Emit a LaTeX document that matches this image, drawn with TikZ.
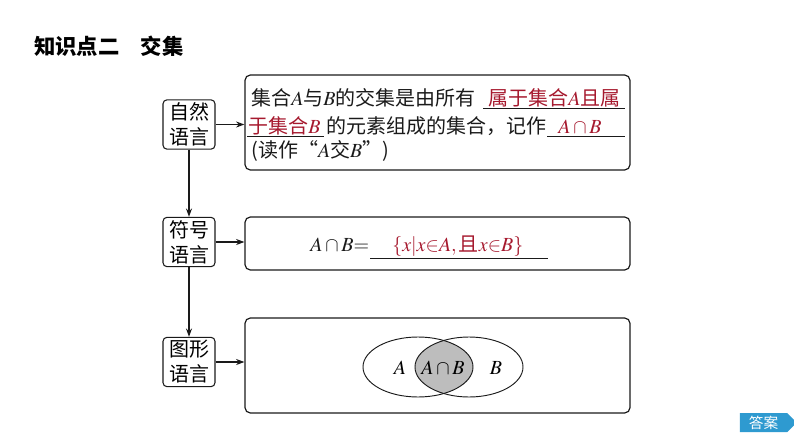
\documentclass[tikz,border=0pt]{standalone}
\usepackage{mathptmx}
\usepackage[no-math]{fontspec}
\setmainfont{Noto Sans CJK SC}
\usetikzlibrary{arrows.meta,positioning,shapes.symbols}
\definecolor{Ink}{HTML}{1A1A1A}
\definecolor{Crimson}{HTML}{A6192E}
\definecolor{Sky}{HTML}{2E9AD0}
\definecolor{Shade}{HTML}{BDBDBD}
\tikzset{
  tag/.style={draw=Ink,rounded corners=3pt,line width=.8pt,minimum width=39pt,minimum height=37pt,inner sep=1pt,align=center,font=\fontsize{15}{18.75}\selectfont},
  panel/.style={draw=Ink,rounded corners=4pt,line width=.9pt,minimum width=288.75pt},
  txt/.style={anchor=base west,inner sep=0pt,font=\fontsize{15}{18}\selectfont,text=Ink},
  ans/.style={txt,text=Crimson},
  blank/.style={draw=Ink,line width=.6pt},
  flow/.style={-{Stealth[length=2.2mm,width=1.6mm]},draw=Ink,line width=.8pt},
  venn/.style={draw=Ink,line width=.7pt},
}
\begin{document}
\begin{tikzpicture}[x=0.75pt,y=-0.75pt]
    \useasboundingbox (0,0) rectangle (794,447);
    \node[anchor=west,inner sep=0pt,font=\fontsize{16}{16}\selectfont\bfseries] (title) at (34,46.5) {知识点二　交集};

    % left column
    \node[tag] (natural) at (189,124.5) {自然\\语言};
    \node[tag] (symbol) at (189,242) {符号\\语言};
    \node[tag] (graph) at (189,362) {图形\\语言};

    % right panels
    \node[panel,minimum height=71.25pt] (p1) at (437.5,122.5) {};
    \node[panel,minimum height=39.75pt] (p2) at (437.5,243.5) {};
    \node[panel,minimum height=71.25pt] (p3) at (437.5,365.5) {};

    \draw[flow] (natural.south) -- (symbol.north);
    \draw[flow] (symbol.south) -- (graph.north);
    \draw[flow] (natural.east) -- (natural.east -| p1.west);
    \draw[flow] (symbol.east) -- (symbol.east -| p2.west);
    \draw[flow] (graph.east) -- (graph.east -| p3.west);

    % panel 1
    \node[txt] (l1a) at (251,105.5) {集合$A$与$B$的交集是由所有};
    \node[ans] (l1b) at (488,105.5) {属于集合$A$且属};
    \node[ans] (l2a) at (248,133) {于集合$B$};
    \node[txt] (l2b) at (326,133) {的元素组成的集合，记作};
    \node[ans,anchor=base] (l2c) at (580,133) {$A\cap B$};
    \node[txt] (l3) at (251,157) {(读作“$A$交$B$”)};
    \draw[blank] (483,108) -- (625,108);
    \draw[blank] (247,136) -- (324,136);
    \draw[blank] (547,136) -- (625,136);

    % panel 2
    \node[txt] (eq) at (310,251) {$A\cap B{=}$};
    \node[ans] (set) at (392,251) {$\{x|x{\in}A,\mbox{且}x{\in}B\}$};
    \draw[blank] (370,258) -- (548,258);

    % panel 3
    \begin{scope}
      \clip (418,367) ellipse (55 and 30);
      \fill[Shade] (469,367) ellipse (54 and 30);
    \end{scope}
    \draw[venn] (418,367) ellipse (55 and 30);
    \draw[venn] (469,367) ellipse (54 and 30);
    \node[font=\fontsize{15}{18}\selectfont] (setA) at (400,368) {$A$};
    \node[font=\fontsize{15}{18}\selectfont] (setAB) at (443,368) {$A\cap B$};
    \node[font=\fontsize{15}{18}\selectfont] (setB) at (496,368) {$B$};

    \node[signal,signal to=east,fill=Sky,text=white,minimum width=42.75pt,minimum height=14.25pt,inner sep=1pt,font=\fontsize{11}{11}\selectfont] (answer) at (763.5,422.5) {答案};
  \end{tikzpicture}
\end{document}
